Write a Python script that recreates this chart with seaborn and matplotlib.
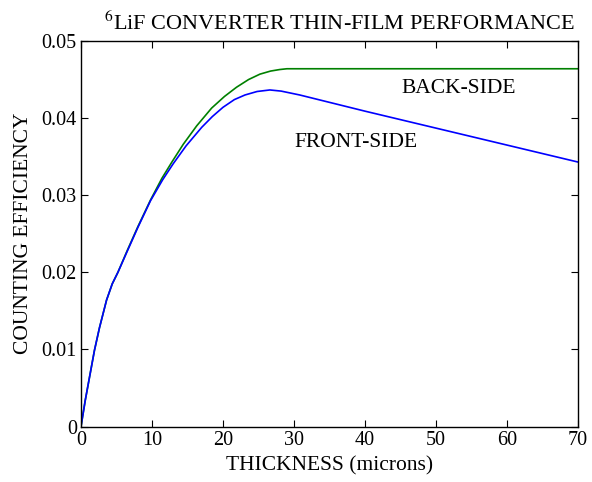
import numpy as np
import pandas as pd
import matplotlib
matplotlib.use("Agg")
import matplotlib.pyplot as plt
import seaborn as sns

# Film thickness (microns) and counting efficiency for each converter side
back_thickness = [0, 0.6, 1.3, 1.9, 2.6, 3.6, 4.4, 5.2, 6.5, 8.0, 9.8, 11.4,
                  12.8, 14.4, 16.3, 18.4, 20.2, 21.9, 23.6, 25.2, 26.7, 28.0,
                  29.0, 70]
back_eff = [0, 0.0034, 0.0069, 0.0099, 0.0128, 0.0164, 0.0185, 0.0200, 0.0228,
            0.0259, 0.0294, 0.0322, 0.0343, 0.0366, 0.0390, 0.0413, 0.0428,
            0.0440, 0.0450, 0.0457, 0.0461, 0.0463, 0.0464, 0.0464]

front_thickness = [0, 0.6, 1.3, 1.9, 2.6, 3.6, 4.4, 5.2, 6.5, 8.0, 9.8, 11.5,
                   13.0, 14.8, 17.0, 18.5, 20.0, 21.6, 23.1, 24.8, 26.6, 28.2,
                   30.8, 40, 50, 60, 70]
front_eff = [0, 0.0034, 0.0069, 0.0099, 0.0128, 0.0164, 0.0185, 0.0200, 0.0227,
             0.0258, 0.0293, 0.0320, 0.0341, 0.0364, 0.0388, 0.0402, 0.0414,
             0.0424, 0.0430, 0.04345, 0.04365, 0.0435, 0.0430, 0.0409, 0.0387,
             0.0365, 0.0343]

x_ticks = [0, 10, 20, 30, 40, 50, 60, 70]
y_ticks = [0, 0.01, 0.02, 0.03, 0.04, 0.05]
y_tick_labels = ["0", "0.01", "0.02", "0.03", "0.04", "0.05"]

sns.set_style("ticks")
plt.rcParams["font.family"] = ["Liberation Serif", "DejaVu Serif"]
plt.rcParams["mathtext.fontset"] = "stix"
plt.rcParams["xtick.direction"] = "in"
plt.rcParams["ytick.direction"] = "in"
plt.rcParams["text.color"] = "black"
plt.rcParams["axes.labelcolor"] = "black"

df = pd.concat([
    pd.DataFrame({"thickness": back_thickness, "eff": back_eff, "side": "BACK-SIDE"}),
    pd.DataFrame({"thickness": front_thickness, "eff": front_eff, "side": "FRONT-SIDE"}),
])

fig = plt.figure(figsize=(5.92, 4.82), dpi=100)
ax = fig.add_axes([81 / 592, 1 - 426.5 / 482, 497 / 592, 385.5 / 482])

sns.lineplot(data=df, x="thickness", y="eff", hue="side",
             palette={"BACK-SIDE": "#008000", "FRONT-SIDE": "#0000ff"},
             estimator=None, sort=False, linewidth=1.2, legend=False, ax=ax)

ax.set_xlim(0, 70)
ax.set_ylim(0, 0.05)
ax.set_xticks(x_ticks)
ax.set_xticklabels([str(t) for t in x_ticks])
ax.set_yticks(y_ticks)
ax.set_yticklabels(y_tick_labels)
ax.tick_params(axis="both", which="both", top=True, right=True, length=5,
               width=0.8, labelsize=14.5, colors="black", labelcolor="black", pad=3)
for side in ax.spines.values():
    side.set_visible(True)
    side.set_linewidth(1.0)
    side.set_color("black")

ax.set_xlabel("THICKNESS (microns)", fontsize=15.5, labelpad=5)
ax.set_ylabel("COUNTING EFFICIENCY", fontsize=15.5, labelpad=6)
ax.set_title("$^{6}$LiF CONVERTER THIN-FILM PERFORMANCE", fontsize=16, pad=8, x=0.52)

ax.text(45.2, 0.04378, "BACK-SIDE", fontsize=15.5, va="center", ha="left")
ax.text(30.1, 0.0369, "FRONT-SIDE", fontsize=15.5, va="center", ha="left")

fig.savefig("out.png", dpi=100)
